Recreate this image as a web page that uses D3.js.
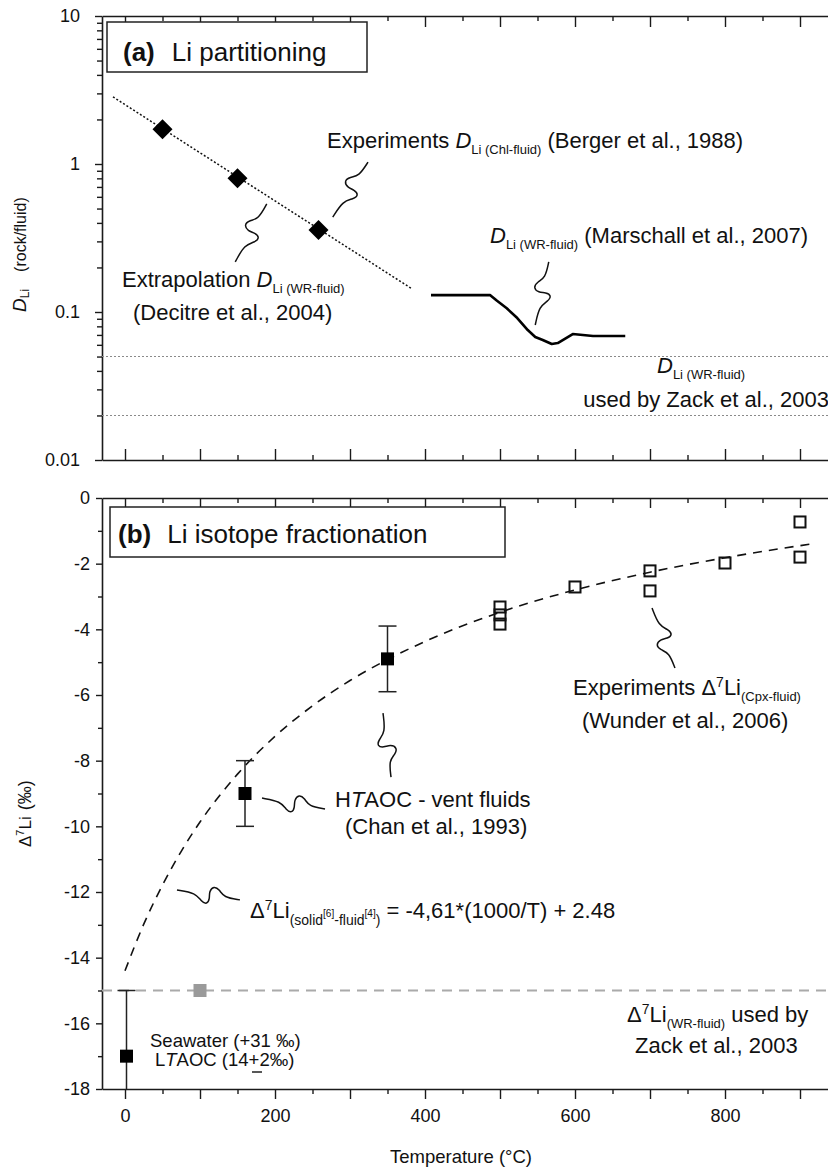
<!DOCTYPE html>
<html><head><meta charset="utf-8">
<script src="https://cdn.jsdelivr.net/npm/d3@7"></script>
<style>
body{margin:0;background:#fff}
svg{display:block}
text{font-family:"Liberation Sans",Arial,Helvetica,sans-serif;fill:#111;white-space:pre}
</style>
</head><body>
<svg id="c" width="828" height="1168"></svg>
<script>
// ---------------- data ----------------
// Panel (a): Li partitioning
const chlT = [50, 150, 258];                 // Berger et al. 1988 experiments
const chlD = [1.72, 0.80, 0.358];
const extrapT = [-16, 383];                  // Decitre et al. 2004 extrapolation
const extrapD = [2.84, 0.143];
const marschT = [408, 487, 496, 509, 523, 537, 547, 557, 569, 577, 597, 624, 667];
const marschD = [0.130, 0.130, 0.119, 0.106, 0.091, 0.0755, 0.0678, 0.0647, 0.0608, 0.0617, 0.071, 0.0688, 0.0688];
const zackDLevels = [0.05, 0.02];            // Zack et al. 2003
const aTickLabels = [10, 1, 0.1, 0.01];
// Panel (b): Li isotope fractionation
const wunderT = [500, 500, 500, 600, 700, 700, 800, 900, 900];
const wunderV = [-3.32, -3.56, -3.84, -2.71, -2.22, -2.83, -1.98, -0.73, -1.80];
const ventT = [160, 350];
const ventV = [-9.0, -4.9];
const ventErr = [1.0, 1.0];
const ltaocT = [2];
const ltaocV = [-17.0];
const ltaocErr = [2.0];
const zackT = [100];
const zackV = [-15];
const fitT = [0, 25, 50, 75, 100, 150, 200, 250, 300, 350, 400, 500, 600, 700, 800, 915];
const fitV = [-14.4, -12.98, -11.79, -10.76, -9.87, -8.41, -7.26, -6.33, -5.56, -4.92, -4.37, -3.48, -2.80, -2.26, -1.82, -1.40];
const bTickLabels = [0, -2, -4, -6, -8, -10, -12, -14, -16, -18];
const bMinorTicks = [-1, -3, -5, -7, -9, -11, -13, -15, -17];
const xMajorTicks = [0, 100, 200, 300, 400, 500, 600, 700, 800, 900];
const xMinorTicks = [50, 150, 250, 350, 450, 550, 650, 750, 850];
const xTickLabels = [0, 200, 400, 600, 800];

// ---------------- layout ----------------
const svg = d3.select("#c");
const L = 102, R = 828;
const aTop = 16, aBot = 460, bTop = 498, bBot = 1089;
const x = d3.scaleLinear().domain([-30.667, 937.333]).range([L, R]);
const ya = d3.scaleLog().domain([0.01, 10]).range([aBot, aTop]);
const yb = d3.scaleLinear().domain([-18, 0]).range([bBot, bTop]);
const AX = "#1a1a1a";

const defs = svg.append("defs");
defs.append("clipPath").attr("id","clipA").append("rect").attr("x",L).attr("y",aTop).attr("width",R-L).attr("height",aBot-aTop);
defs.append("clipPath").attr("id","clipB").append("rect").attr("x",L).attr("y",bTop).attr("width",R-L).attr("height",bBot-bTop);

function styleAxis(g, fs){
  g.attr("font-family",null).attr("font-size",null);
  g.select(".domain").attr("stroke",AX).attr("stroke-width",1.6);
  g.selectAll(".tick line").attr("stroke",AX).attr("stroke-width",1.4);
  g.selectAll(".tick text").attr("font-size",fs||18).attr("fill","#111");
}

// rich text helper
function rich(g, px, py, parts, opts){
  opts = opts || {};
  const t = g.append("text").attr("x",px).attr("y",py)
    .attr("font-size",opts.size||22).attr("text-anchor",opts.anchor||"start");
  let shift = 0;
  parts.forEach(p=>{
    const ts = t.append("tspan").text(p.t);
    const target = p.dy || 0;
    if (target !== shift){ ts.attr("dy", target - shift); shift = target; }
    if (p.size) ts.attr("font-size", p.size);
    if (p.it) ts.attr("font-style","italic");
    if (p.b) ts.attr("font-weight","bold");
    if (p.dx) ts.attr("dx", p.dx);
  });
  return t;
}

// S-shaped leader line between two points
function squiggle(g, p0, p1, side){
  side = side || 1;
  const dx=p1[0]-p0[0], dy=p1[1]-p0[1], Ln=Math.hypot(dx,dy);
  const nx=-dy/Ln*side, ny=dx/Ln*side;
  const loc=[[0,0],[0.30,0.0],[0.40,0.13],[0.50,0.17],[0.53,0.06],[0.50,-0.06],[0.56,-0.17],[0.66,-0.12],[0.74,0],[1,0]];
  const pts=loc.map(([t,o])=>[p0[0]+dx*t+nx*o*Ln*0.9, p0[1]+dy*t+ny*o*Ln*0.9]);
  g.append("path").attr("d", d3.line().curve(d3.curveBasis)(pts))
    .attr("fill","none").attr("stroke","#111").attr("stroke-width",1.5);
}

// ================= Panel (a) =================
const ga = svg.append("g");
ga.append("g").attr("transform",`translate(0,${aTop})`)
  .call(d3.axisBottom(x).tickValues(xMajorTicks).tickSize(11).tickSizeOuter(0).tickFormat(""))
  .call(g=>styleAxis(g));
ga.append("g").attr("transform",`translate(0,${aTop})`)
  .call(d3.axisBottom(x).tickValues(xMinorTicks).tickSize(5).tickSizeOuter(0).tickFormat(""))
  .call(g=>{styleAxis(g); g.select(".domain").remove();});
ga.append("g").attr("transform",`translate(0,${aBot})`)
  .call(d3.axisTop(x).tickValues(xMajorTicks).tickSize(11).tickSizeOuter(0).tickFormat(""))
  .call(g=>styleAxis(g));
ga.append("g").attr("transform",`translate(0,${aBot})`)
  .call(d3.axisTop(x).tickValues(xMinorTicks).tickSize(5).tickSizeOuter(0).tickFormat(""))
  .call(g=>{styleAxis(g); g.select(".domain").remove();});
const logMinor = [];
[0.01,0.1,1].forEach(dec=>{ for(let k=2;k<=9;k++) logMinor.push(dec*k); });
ga.append("g").attr("transform",`translate(${L},0)`)
  .call(d3.axisLeft(ya).tickValues(aTickLabels).tickSize(7).tickSizeOuter(0).tickPadding(15).tickFormat(d=>String(d)))
  .call(g=>styleAxis(g));
ga.append("g").attr("transform",`translate(${L},0)`)
  .call(d3.axisLeft(ya).tickValues(logMinor).tickSize(5).tickSizeOuter(0).tickFormat(""))
  .call(g=>{styleAxis(g); g.select(".domain").remove();});

// y label
rich(ga, 0, 0, [
  {t:"D", it:true, size:19},
  {t:"Li", size:12, dy:3},
  {t:"(rock/fluid)", size:16, dy:0, dx:17}
]).attr("transform","translate(26,312) rotate(-90)");

const pa = ga.append("g").attr("clip-path","url(#clipA)");
pa.selectAll("line.zack").data(zackDLevels).join("line")
  .attr("x1",L).attr("x2",R).attr("y1",d=>ya(d)).attr("y2",d=>ya(d))
  .attr("stroke","#8a8a8a").attr("stroke-width",1.1).attr("stroke-dasharray","2,2");
pa.append("path").datum(extrapT.map((t,i)=>[t,extrapD[i]]))
  .attr("d", d3.line().x(d=>x(d[0])).y(d=>ya(d[1])))
  .attr("fill","none").attr("stroke","#111").attr("stroke-width",1.5).attr("stroke-dasharray","2,2");
pa.append("path").datum(marschT.map((t,i)=>[t,marschD[i]]))
  .attr("d", d3.line().x(d=>x(d[0])).y(d=>ya(d[1])))
  .attr("fill","none").attr("stroke","#000").attr("stroke-width",2.6).attr("stroke-linejoin","round");
pa.selectAll("path.dia").data(chlT.map((t,i)=>[t,chlD[i]])).join("path")
  .attr("d", d3.symbol(d3.symbolSquare, 200)())
  .attr("transform", d=>`translate(${x(d[0])},${ya(d[1])}) rotate(45)`)
  .attr("fill","#000");

ga.append("rect").attr("x",107).attr("y",22).attr("width",260).attr("height",50)
  .attr("fill","#fff").attr("stroke","#222").attr("stroke-width",1.5);
rich(ga, 123, 61, [{t:"(a)", b:true},{t:"Li partitioning", dx:17}], {size:26});

rich(ga, 327, 148, [
  {t:"Experiments "},{t:"D", it:true},{t:"Li (Chl-fluid)", size:13, dy:6},{t:" (Berger et al., 1988)", dy:0}
]);
rich(ga, 122, 287, [
  {t:"Extrapolation "},{t:"D", it:true},{t:"Li (WR-fluid)", size:13, dy:6}
]);
rich(ga, 133, 320, [{t:"(Decitre et al., 2004)"}]);
rich(ga, 490, 243, [
  {t:"D", it:true},{t:"Li (WR-fluid)", size:13, dy:6},{t:" (Marschall et al., 2007)", dy:0}
]);
rich(ga, 657, 373, [
  {t:"D", it:true},{t:"Li (WR-fluid)", size:13, dy:6}
]);
rich(ga, 829, 407, [{t:"used by Zack et al., 2003"}], {anchor:"end"});

squiggle(ga, [x(277), ya(0.438)], [x(324), ya(1.03)], 1);
squiggle(ga, [x(147), ya(0.218)], [x(189), ya(0.537)], 1);
squiggle(ga, [x(547), ya(0.0817)], [x(565), ya(0.218)], 1);

// ================= Panel (b) =================
const gb = svg.append("g");
gb.append("g").attr("transform",`translate(0,${bTop})`)
  .call(d3.axisBottom(x).tickValues(xMajorTicks).tickSize(10).tickSizeOuter(0).tickFormat(""))
  .call(g=>styleAxis(g));
gb.append("g").attr("transform",`translate(0,${bTop})`)
  .call(d3.axisBottom(x).tickValues(xMinorTicks).tickSize(5).tickSizeOuter(0).tickFormat(""))
  .call(g=>{styleAxis(g); g.select(".domain").remove();});
gb.append("g").attr("transform",`translate(0,${bBot})`)
  .call(d3.axisBottom(x).tickValues(xMajorTicks).tickSize(10).tickSizeOuter(0).tickPadding(10)
    .tickFormat(d=>xTickLabels.includes(d)?String(d):""))
  .call(g=>styleAxis(g));
gb.append("g").attr("transform",`translate(0,${bBot})`)
  .call(d3.axisBottom(x).tickValues(xMinorTicks).tickSize(5).tickSizeOuter(0).tickFormat(""))
  .call(g=>{styleAxis(g); g.select(".domain").remove();});
gb.append("g").attr("transform",`translate(${L},0)`)
  .call(d3.axisLeft(yb).tickValues(bTickLabels).tickSize(6).tickSizeOuter(0).tickPadding(6).tickFormat(d=>String(d)))
  .call(g=>styleAxis(g));
gb.append("g").attr("transform",`translate(${L},0)`)
  .call(d3.axisLeft(yb).tickValues(bMinorTicks).tickSize(4).tickSizeOuter(0).tickFormat(""))
  .call(g=>{styleAxis(g); g.select(".domain").remove();});

rich(gb, 0, 0, [
  {t:"\u0394", size:17},{t:"7", size:11, dy:-7},{t:"Li", size:17, dy:0},{t:"(\u2030)", size:18, dx:6}
]).attr("transform","translate(31,847) rotate(-90)");
gb.append("text").attr("x",461).attr("y",1163).attr("text-anchor","middle").attr("font-size",18.5).text("Temperature (\u00B0C)");

const pb = gb.append("g").attr("clip-path","url(#clipB)");
pb.selectAll("line.zb").data(zackV).join("line")
  .attr("x1",L).attr("x2",R).attr("y1",d=>yb(d)).attr("y2",d=>yb(d))
  .attr("stroke","#aaaaaa").attr("stroke-width",1.8).attr("stroke-dasharray","10,7");
pb.append("path").datum(fitT.map((t,i)=>[t,fitV[i]]))
  .attr("d", d3.line().curve(d3.curveMonotoneX).x(d=>x(d[0])).y(d=>yb(d[1])))
  .attr("fill","none").attr("stroke","#111").attr("stroke-width",1.6).attr("stroke-dasharray","9,7");
const errPts = ventT.map((t,i)=>({t, v:ventV[i], e:ventErr[i]}))
  .concat(ltaocT.map((t,i)=>({t, v:ltaocV[i], e:ltaocErr[i]})));
errPts.forEach(p=>{
  const cx = x(p.t);
  pb.append("line").attr("x1",cx).attr("x2",cx).attr("y1",yb(p.v+p.e)).attr("y2",yb(p.v-p.e))
    .attr("stroke","#222").attr("stroke-width",1.5);
  [p.v+p.e, p.v-p.e].forEach(val=>{
    pb.append("line").attr("x1",cx-9).attr("x2",cx+9).attr("y1",yb(val)).attr("y2",yb(val))
      .attr("stroke","#222").attr("stroke-width",1.5);
  });
});
pb.selectAll("rect.gz").data(zackT.map((t,i)=>[t,zackV[i]])).join("rect")
  .attr("x",d=>x(d[0])-6.5).attr("y",d=>yb(d[1])-6.5).attr("width",13).attr("height",13)
  .attr("fill","#9a9a9a");
pb.selectAll("rect.fs").data(errPts).join("rect")
  .attr("x",d=>x(d.t)-6.5).attr("y",d=>yb(d.v)-6.5).attr("width",13).attr("height",13)
  .attr("fill","#000");
pb.selectAll("rect.os").data(wunderT.map((t,i)=>[t,wunderV[i]])).join("rect")
  .attr("x",d=>x(d[0])-5.5).attr("y",d=>yb(d[1])-5.5).attr("width",11).attr("height",11)
  .attr("fill","none").attr("stroke","#111").attr("stroke-width",2);

gb.append("rect").attr("x",110).attr("y",507).attr("width",395).attr("height",50)
  .attr("fill","#fff").attr("stroke","#222").attr("stroke-width",1.5);
rich(gb, 118, 543, [{t:"(b)", b:true},{t:"Li isotope fractionation", dx:16}], {size:26});

rich(gb, 573, 695, [
  {t:"Experiments \u0394"},{t:"7", size:14, dy:-8},{t:"Li", dy:0},{t:"(Cpx-fluid)", size:13, dy:6}
]);
rich(gb, 582, 728, [{t:"(Wunder et al., 2006)"}]);
rich(gb, 335, 807, [{t:"H"},{t:"T", it:true},{t:"AOC - vent fluids"}]);
rich(gb, 345, 834, [{t:"(Chan et al., 1993)"}]);
rich(gb, 250, 918, [
  {t:"\u0394"},{t:"7", size:14, dy:-8},{t:"Li", dy:0},
  {t:"(solid", size:14, dy:7},{t:"[6]", size:10, dy:-1},{t:"-fluid", size:14, dy:7},{t:"[4]", size:10, dy:-1},{t:")", size:14, dy:7},
  {t:" = -4,61*(1000/T) + 2.48", dy:0}
]);
rich(gb, 627, 1022, [
  {t:"\u0394"},{t:"7", size:14, dy:-8},{t:"Li", dy:0},{t:"(WR-fluid)", size:13, dy:6},{t:" used by", dy:0}
]);
rich(gb, 635, 1053, [{t:"Zack et al., 2003"}]);
rich(gb, 150, 1047, [{t:"Seawater (+31 \u2030)"}], {size:18.5});
rich(gb, 155, 1066, [{t:"L"},{t:"T", it:true},{t:"AOC (14+2\u2030)"}], {size:18.5});
// bar under the "+" (±)
gb.append("line").attr("x1",252).attr("x2",262).attr("y1",1072).attr("y2",1072)
  .attr("stroke","#111").attr("stroke-width",1.4);

squiggle(gb, [x(702.7), yb(-3.35)], [x(733.3), yb(-5.18)], -1);
squiggle(gb, [x(344), yb(-6.55)], [x(354.7), yb(-8.50)], 1);
squiggle(gb, [x(182.7), yb(-9.14)], [x(266.7), yb(-9.47)], 1);
squiggle(gb, [x(69.3), yb(-11.94)], [x(153.3), yb(-12.24)], 1);
</script>
</body></html>
